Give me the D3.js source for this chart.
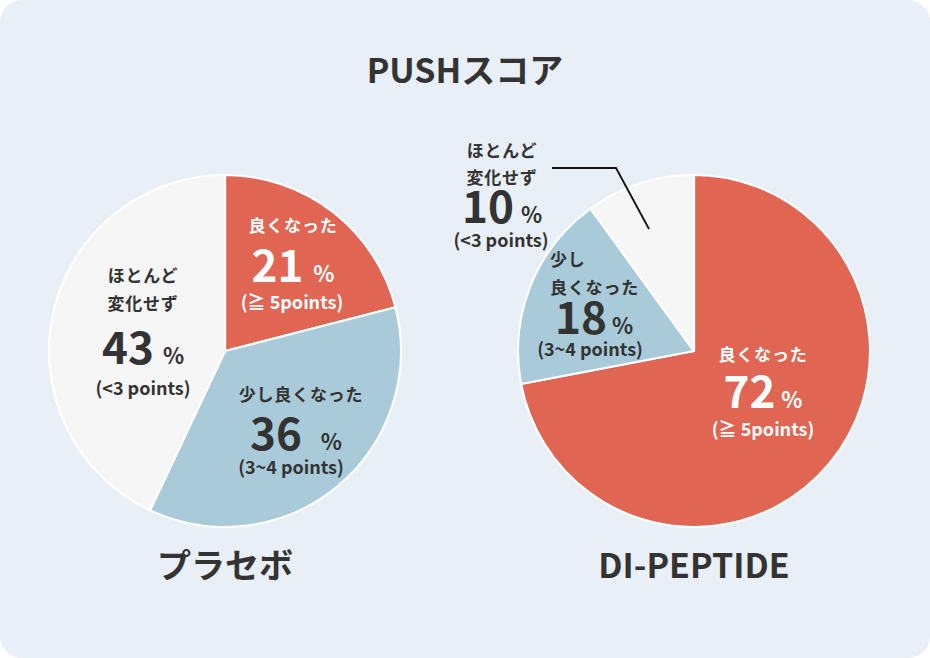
<!DOCTYPE html>
<html><head><meta charset="utf-8">
<script src="https://cdn.jsdelivr.net/npm/d3@7/dist/d3.min.js"></script>
<style>
html,body{margin:0;padding:0;background:#fff;}
svg{display:block;font-family:"Noto Sans CJK JP","Noto Sans",sans-serif;font-weight:700;}
</style></head>
<body>
<svg id="chart" width="930" height="658"></svg>
<script>
// ---- data ----
const title = "PUSHスコア";
const groups = ["プラセボ", "DI-PEPTIDE"];
const categories = ["良くなった", "少し良くなった", "ほとんど変化せず"];
const placeboValues = [21, 36, 43];
const peptideValues = [72, 18, 10];
const pointLabels = ["(≧ 5points)", "(3~4 points)", "(<3 points)"];
const placeboNameLines = [["良くなった"], ["少し良くなった"], ["ほとんど", "変化せず"]];
const peptideNameLines = [["良くなった"], ["少し", "良くなった"], ["ほとんど", "変化せず"]];

const colors = ["#e06552", "#a9cad9", "#f6f6f6"];
const textColors = ["#ffffff", "#333333", "#333333"];

const svg = d3.select("#chart");
svg.append("rect").attr("x", 0).attr("y", 0).attr("width", 930).attr("height", 658)
  .attr("rx", 22).attr("fill", "#e8eff6");

svg.append("text").attr("x", 465).attr("y", 83).attr("text-anchor", "middle")
  .attr("font-size", 34).attr("fill", "#333").text(title);

const R = 176;
const centers = [{x: 225, y: 351}, {x: 694, y: 351}];
const allValues = [placeboValues, peptideValues];
const allNames = [placeboNameLines, peptideNameLines];

// label layout (offsets from pie center)
const layouts = [
  [ // placebo
    {nameX: 68, nameAnchor: "middle", nameY: [-119], numX: 68, numY: -69, gap: 10, parX: 67, parY: -42},
    {nameX: 76, nameAnchor: "middle", nameY: [50], numX: 71, numY: 99, gap: 19, parX: 66, parY: 123},
    {nameX: -82, nameAnchor: "middle", nameY: [-69, -41], numX: -82, numY: 13, gap: 9, parX: -82, parY: 44}
  ],
  [ // peptide
    {nameX: 69, nameAnchor: "middle", nameY: [10], numX: 69, numY: 57, gap: 6, parX: 69, parY: 85},
    {nameX: -144, nameAnchor: "start", nameY: [-85, -57], numX: -100, numY: -17, gap: 5, parX: -104, parY: 5},
    {nameX: -192, nameAnchor: "middle", nameY: [-194, -167], numX: -192, numY: -128, gap: 7, parX: -193, parY: -104}
  ]
];

const pie = d3.pie().sort(null).value(d => d);
const arc = d3.arc().innerRadius(0).outerRadius(R);

groups.forEach((gname, gi) => {
  const c = centers[gi];
  const g = svg.append("g").attr("transform", `translate(${c.x},${c.y})`);
  g.selectAll("path").data(pie(allValues[gi])).join("path")
    .attr("d", arc)
    .attr("fill", (d, i) => colors[i])
    .attr("stroke", "#ffffff").attr("stroke-width", 2.2).attr("stroke-linejoin", "round");

  allValues[gi].forEach((v, i) => {
    const L = layouts[gi][i];
    const col = textColors[i];
    allNames[gi][i].forEach((line, li) => {
      g.append("text").attr("x", L.nameX).attr("y", L.nameY[li])
        .attr("text-anchor", L.nameAnchor).attr("font-size", 17).attr("fill", col)
        .attr("letter-spacing", 0.8).text(line);
    });
    const t = g.append("text").attr("x", L.numX).attr("y", L.numY)
      .attr("text-anchor", "middle").attr("fill", col);
    t.append("tspan").attr("font-size", 44).text(v);
    t.append("tspan").attr("font-size", 22).attr("dx", L.gap).text("%");
    g.append("text").attr("x", L.parX).attr("y", L.parY)
      .attr("text-anchor", "middle").attr("font-size", 18).attr("fill", col).text(pointLabels[i]);
  });

  svg.append("text").attr("x", c.x).attr("y", 578).attr("text-anchor", "middle")
    .attr("font-size", 34).attr("fill", "#333").text(gname);
});

// leader line for the small slice of DI-PEPTIDE
const c2 = centers[1];
const leader = [[-142, -183], [-78, -183], [-45, -122]];
svg.append("path")
  .attr("d", d3.line()(leader.map(p => [c2.x + p[0], c2.y + p[1]])))
  .attr("fill", "none").attr("stroke", "#111").attr("stroke-width", 1.8);
</script>
</body></html>
